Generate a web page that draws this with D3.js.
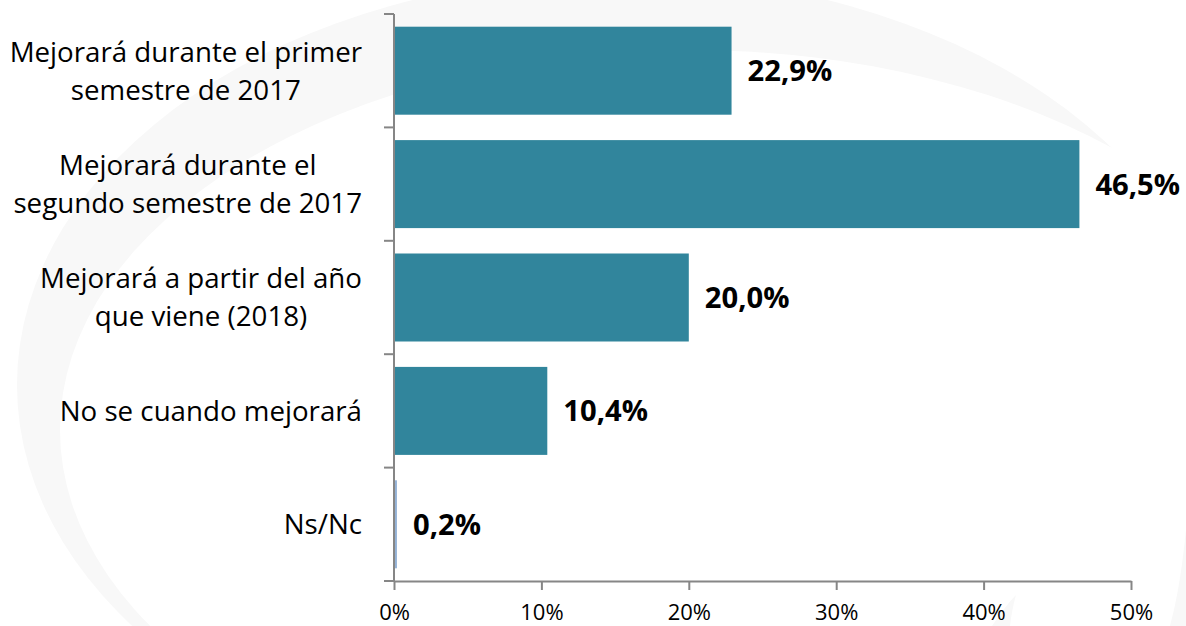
<!DOCTYPE html>
<html>
<head>
<meta charset="utf-8">
<script src="https://cdn.jsdelivr.net/npm/d3@7"></script>
<style>
  html, body { margin: 0; padding: 0; background: #fff; }
  svg { display: block; font-family: "Open Sans", sans-serif; }
</style>
</head>
<body>
<div id="chart"></div>
<script>
// datos del gráfico
const categories = [
  "Mejorará durante el primer\nsemestre de 2017",
  "Mejorará durante el\nsegundo semestre de 2017",
  "Mejorará a partir del año\nque viene (2018)",
  "No se cuando mejorará",
  "Ns/Nc"
];
const values = [22.9, 46.5, 20.0, 10.4, 0.2];
const barColors = ["#31859c", "#31859c", "#31859c", "#31859c", "#95b3d7"];
const xTicks = [0, 10, 20, 30, 40, 50];

const width = 1186, height = 626;
const plotLeft = 394, plotRight = 1131, plotTop = 14, plotBottom = 581;

const svg = d3.select("#chart").append("svg")
  .attr("width", width)
  .attr("height", height);

// marca de agua de fondo (arco gris muy claro)
const wmColor = "#f8f8f8";
const wm = svg.append("g");
wm.append("ellipse")
  .attr("cx", 620).attr("cy", 385).attr("rx", 603).attr("ry", 410)
  .attr("fill", wmColor);
wm.append("ellipse")
  .attr("cx", 690).attr("cy", 430).attr("rx", 630).attr("ry", 380)
  .attr("fill", "#fff");
wm.append("rect")
  .attr("x", 1120).attr("y", 0).attr("width", 80).attr("height", 300)
  .attr("fill", "#fff");
wm.append("path")
  .attr("d", "M1186,530 C1182,570 1177,600 1170,626 L1186,626 Z")
  .attr("fill", wmColor);
wm.append("path")
  .attr("d", "M992,626 C1000,614 1008,603 1016,595 C1013,606 1011,616 1010,626 Z")
  .attr("fill", wmColor);

// escalas
const x = d3.scaleLinear().domain([0, 50]).range([plotLeft, plotRight]);
const y = d3.scaleBand().domain(categories).range([plotTop, plotBottom])
  .paddingInner(0.224).paddingOuter(0.112);

// barras
svg.append("g").selectAll("rect")
  .data(values)
  .join("rect")
  .attr("x", x(0))
  .attr("y", (d, i) => y(categories[i]))
  .attr("width", d => x(d) - x(0))
  .attr("height", y.bandwidth())
  .attr("fill", (d, i) => barColors[i]);

// etiquetas de valor
svg.append("g").selectAll("text")
  .data(values)
  .join("text")
  .attr("x", d => x(d) + 16)
  .attr("y", (d, i) => y(categories[i]) + y.bandwidth() / 2)
  .attr("dy", "0.36em")
  .attr("font-size", "29.2px")
  .attr("font-weight", "bold")
  .attr("fill", "#000")
  .text(d => d.toFixed(1).replace(".", ",") + "%");

// eje X
const xAxis = svg.append("g")
  .attr("transform", `translate(0,${plotBottom})`)
  .call(d3.axisBottom(x).tickValues(xTicks).tickSize(9).tickSizeOuter(0)
    .tickFormat(d => d + "%"));
xAxis.select(".domain").attr("stroke", "#868686").attr("stroke-width", 2);
xAxis.selectAll(".tick line").attr("stroke", "#868686").attr("stroke-width", 2);
xAxis.selectAll(".tick text")
  .attr("y", 23)
  .attr("font-size", "22px")
  .attr("font-family", "Open Sans, sans-serif")
  .attr("fill", "#000");

// eje Y: línea y marcas entre categorías
const yAxis = svg.append("g");
yAxis.append("line")
  .attr("x1", plotLeft).attr("x2", plotLeft)
  .attr("y1", plotTop).attr("y2", plotBottom)
  .attr("stroke", "#868686").attr("stroke-width", 2);
const step = y.step();
const bounds = d3.range(categories.length + 1).map(i => plotTop + i * step);
yAxis.selectAll(".btick")
  .data(bounds)
  .join("line")
  .attr("x1", plotLeft - 10).attr("x2", plotLeft)
  .attr("y1", d => d).attr("y2", d => d)
  .attr("stroke", "#868686").attr("stroke-width", 2);

// etiquetas de categoría: bloque alineado a la derecha, líneas centradas
const lineH = 38;
const labelRight = 362;
categories.forEach(cat => {
  const lines = cat.split("\n");
  const cy = y(cat) + y.bandwidth() / 2;
  const t = svg.append("text")
    .attr("text-anchor", "middle")
    .attr("font-size", "27.7px")
    .attr("fill", "#000");
  const spans = lines.map((ln, i) => t.append("tspan")
    .attr("y", cy + (i - (lines.length - 1) / 2) * lineH)
    .attr("dy", "0.36em")
    .text(ln));
  const maxW = d3.max(spans, s => s.node().getComputedTextLength());
  spans.forEach(s => s.attr("x", labelRight - maxW / 2));
});
</script>
</body>
</html>
